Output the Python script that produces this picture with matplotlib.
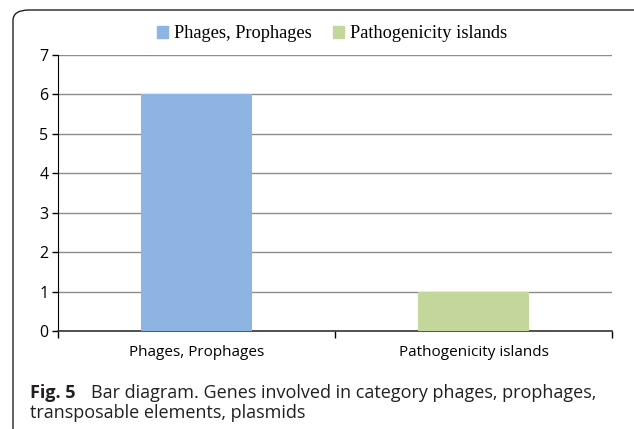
import numpy as np
import matplotlib.pyplot as plt
from matplotlib.patches import FancyBboxPatch, Rectangle

categories = ['Phages, Prophages', 'Pathogenicity islands']
counts = [6, 1]
bar_colors = ['#8EB4E3', '#C3D69B']
y_ticks = [0, 1, 2, 3, 4, 5, 6, 7]

fig = plt.figure(figsize=(6.34, 4.29), dpi=100)
W, H = 634, 429

# rounded frame around the figure panel
frame = FancyBboxPatch((13 / W, -0.2), 1.2, 1 - 10 / H + 0.2,
                       boxstyle='round,pad=0,rounding_size=0.025',
                       transform=fig.transFigure, fill=False,
                       edgecolor='#231f20', linewidth=1.0)
fig.patches.append(frame)

ax = fig.add_axes([58 / W, 1 - 331 / H, (612 - 58) / W, (331 - 55) / H])
x = np.arange(len(categories))
ax.bar(x, counts, width=0.40, color=bar_colors, zorder=3)
ax.set_xlim(-0.5, 1.5)
ax.set_ylim(0, 7)
ax.set_yticks(y_ticks)
ax.grid(axis='y', color='#8c8c8c', linewidth=1.0, zorder=0)
for s in ['top', 'right']:
    ax.spines[s].set_visible(False)
ax.spines['left'].set_color('black')
ax.spines['bottom'].set_color('#333333')
ax.spines['bottom'].set_linewidth(1.2)

ax.tick_params(axis='y', length=4, width=1, colors='black', pad=3)
ax.tick_params(axis='x', length=0, pad=10)
for lab in ax.get_yticklabels():
    lab.set_fontfamily('Open Sans')
    lab.set_fontsize(11.5)
ax.set_xticks(x)
ax.set_xticklabels(categories, fontfamily='Open Sans', fontsize=11)
# category boundary ticks
ax.set_xticks([-0.5, 0.5, 1.5], minor=True)
ax.tick_params(axis='x', which='minor', length=5, width=1, color='black')

# legend
handles = [Rectangle((0, 0), 1, 1, color=c) for c in bar_colors]
fig.legend(handles, categories, loc='center', bbox_to_anchor=(332 / W, 1 - 34 / H),
           ncol=2, frameon=False, prop=dict(family='Liberation Serif', size=13.2),
           handlelength=0.6, handleheight=0.6, handletextpad=0.3, columnspacing=1.2)

# caption
cap_col = '#231f20'
fig.text(30 / W, 1 - 393 / H, 'Fig. 5', fontfamily='Open Sans', fontweight='bold',
         fontsize=13, color=cap_col, va='center')
fig.text(91 / W, 1 - 393 / H, 'Bar diagram. Genes involved in category phages, prophages,',
         fontfamily='Open Sans', fontsize=13, color=cap_col, va='center')
fig.text(30 / W, 1 - 413 / H, 'transposable elements, plasmids',
         fontfamily='Open Sans', fontsize=13, color=cap_col, va='center')

fig.savefig('out.png', dpi=100)
